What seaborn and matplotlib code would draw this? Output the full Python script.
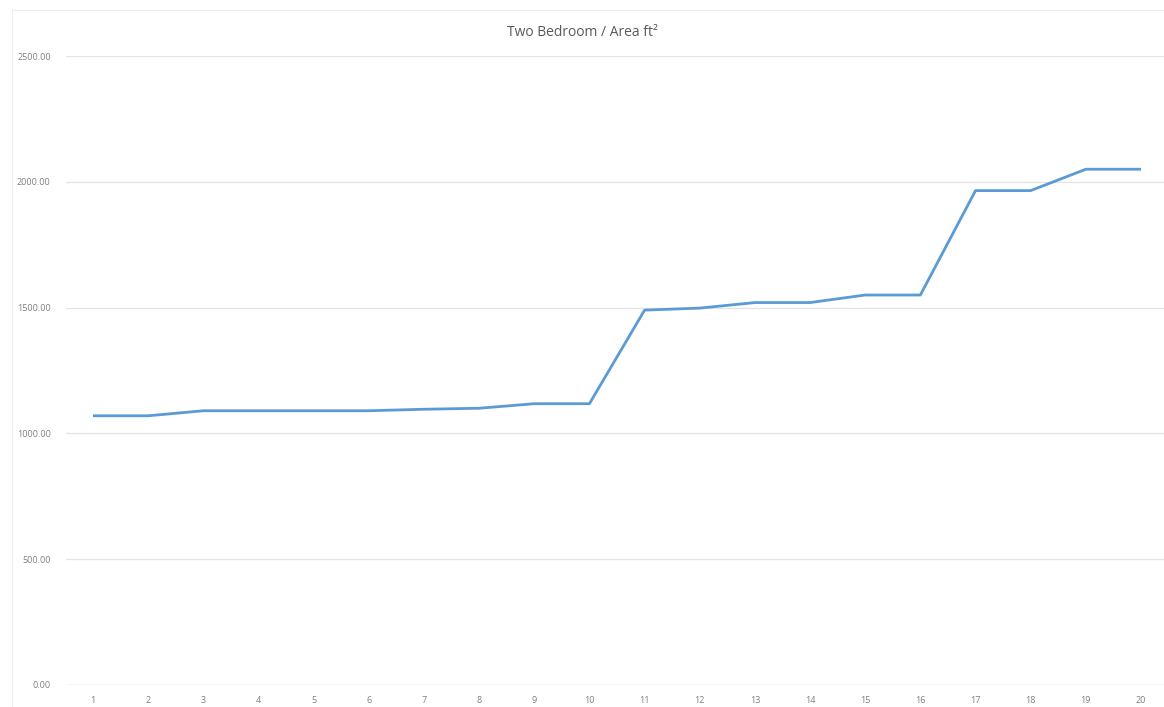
import matplotlib
matplotlib.use("Agg")
import matplotlib.pyplot as plt
import seaborn as sns
import pandas as pd
from matplotlib.patches import Rectangle

units = list(range(1, 21))
area = [1070, 1070, 1090, 1090, 1090, 1090, 1096, 1100, 1118, 1118,
        1490, 1498, 1520, 1520, 1550, 1550, 1965, 1965, 2050, 2050]
y_ticks = [0, 500, 1000, 1500, 2000, 2500]
title = "Two Bedroom / Area ft²"

sns.set_theme(style="white")
plt.rcParams['font.family'] = ['Open Sans', 'DejaVu Sans']

W, H = 1164, 707
fig = plt.figure(figsize=(W / 100, H / 100), dpi=100)
left_px, right_px, top_px, bottom_px = 66, 1164, 56, 685
ax = fig.add_axes([left_px / W, (H - bottom_px) / H,
                   (right_px - left_px) / W, (bottom_px - top_px) / H])

df = pd.DataFrame({"unit": units, "area": area})
sns.lineplot(data=df, x="unit", y="area", ax=ax, color="#5B9BD5",
             linewidth=2.0, solid_capstyle="butt")

spacing = (1141 - 93) / 19
ax.set_xlim(1 - (93 - left_px) / spacing, 20 + (right_px - 1141) / spacing)
ax.set_ylim(0, 2500)
ax.set_xticks(units)
ax.set_xticklabels([str(u) for u in units])
ax.set_yticks(y_ticks)
ax.set_yticklabels([f"{v:.2f}" for v in y_ticks])
ax.tick_params(axis="both", labelsize=6.5, labelcolor="#7f7f7f", length=0)
ax.tick_params(axis="y", pad=11)
ax.tick_params(axis="x", pad=8)
ax.grid(axis="y", color="#e3e3e3", linewidth=0.9)
ax.set_axisbelow(True)
for s in ax.spines.values():
    s.set_visible(False)
ax.axhline(0, color="#d9d9d9", linewidth=0.9, zorder=0)
ax.set_xlabel("")
ax.set_ylabel("")

fig.text(0.5, (H - 33) / H, title, ha="center", va="center",
         fontsize=10, color="#595959")

fig.patches.append(Rectangle((12 / W, -0.1), 1.2, (H - 10) / H + 0.1,
                             transform=fig.transFigure, fill=False,
                             edgecolor="#ececec", linewidth=0.8))

fig.savefig("out.png", dpi=100)
